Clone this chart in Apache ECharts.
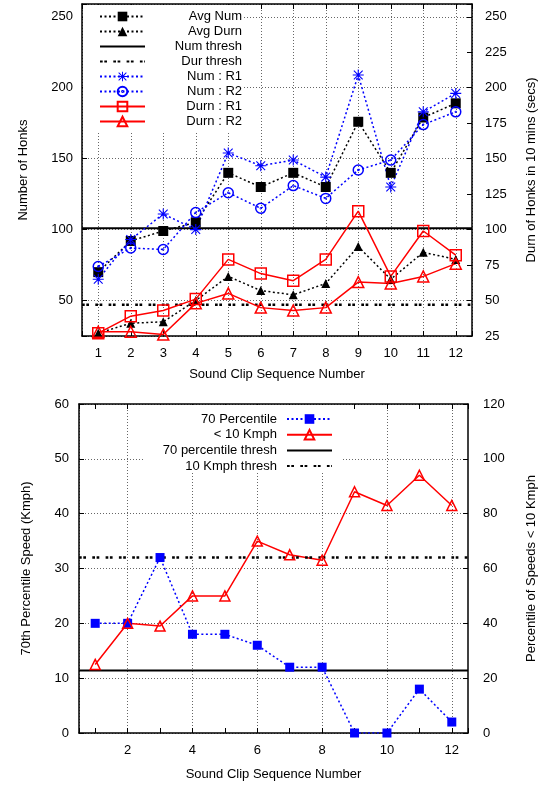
<!DOCTYPE html>
<html><head><meta charset="utf-8">
<script src="https://cdn.jsdelivr.net/npm/echarts@6/dist/echarts.min.js"></script>
<style>html,body{margin:0;padding:0;background:#fff}#c{width:553px;height:785px}</style>
</head><body><div id="c"></div>
<script>
// ---------- data ----------
const clips = [1,2,3,4,5,6,7,8,9,10,11,12];
const avgNum  = [70,92,99,105,140,130,140,130,176,140,179,189];
const avgDurn = [27,34,35,50,67,57,54,62,88,65,84,79];
const numThresh = 101;
const durThresh = 47;
const numR1  = [65,93,111,100,154,145,149,137,209,130,183,196];
const numR2  = [74,87,86,112,126,115,131,122,142,149,174,183];
const durnR1 = [27,39,43,51,79,69,64,79,113,67,99,82];
const durnR2 = [28,28,26,48,55,45,43,45,63,62,67,76];

const pct70   = [20,20,32,18,18,16,12,12,0,0,8,2];
const below10 = [25,40,39,50,50,70,65,63,88,83,94,83];
const pct70Thresh = 11.4;
const kmphThresh  = 64;

const xMin = 0.5, xMax = 12.5;
const topLegend = ['Avg Num','Avg Durn','Num thresh','Dur thresh','Num : R1','Num : R2','Durn : R1','Durn : R2'];
const botLegend = ['70 Percentile','< 10 Kmph','70 percentile thresh','10 Kmph thresh'];

// ---------- helpers ----------
const FONT = 'Liberation Sans, Arial, Helvetica, sans-serif';
const BLUE = '#0000ff', RED = '#ff0000', BLACK = '#000000';
const pts = vals => clips.map((c, i) => [c, vals[i]]);
const hline = v => [[xMin, v], [xMax, v]];
const ASTER = 'path://M0 9H20V11H0Z M9 0H11V20H9Z M1.3 2.7L2.7 1.3L18.7 17.3L17.3 18.7Z M17.3 1.3L18.7 2.7L2.7 18.7L1.3 17.3Z';
const CIRCDOT = 'path://M10 0.5A9.5 9.5 0 1 1 9.99 0.5Z M10 9.2A0.8 0.8 0 1 1 9.99 9.2Z';
const dotted = [2, 2.5];
const thickDots = [2.7, 1.6, 2.7, 6.3];
const grid = {color: '#666', width: 1, type: [1, 2]};

function xAx(gi, labelFn, splitColors, name, nameGap) {
  return {
    type: 'value', gridIndex: gi, position: 'bottom', min: xMin, max: xMax,
    minInterval: 1, maxInterval: 1, splitNumber: 12,
    axisLine: {show: true, onZero: false, lineStyle: {color: BLACK, width: 1.5}},
    axisTick: {show: true, inside: true, length: 5, lineStyle: {color: BLACK, width: 1}},
    axisLabel: {show: true, margin: 11, color: BLACK, fontSize: 13, fontFamily: FONT, formatter: labelFn},
    splitLine: {show: true, lineStyle: {color: splitColors, width: 1, type: [1, 2]}},
    name: name, nameLocation: 'middle', nameGap: nameGap,
    nameTextStyle: {color: BLACK, fontSize: 13, fontFamily: FONT}
  };
}
function xTop(gi) {
  return {
    type: 'value', gridIndex: gi, position: 'top', min: xMin, max: xMax,
    minInterval: 1, maxInterval: 1, splitNumber: 12,
    axisLine: {show: true, onZero: false, lineStyle: {color: BLACK, width: 1.5}},
    axisTick: {show: true, inside: true, length: 5, lineStyle: {color: BLACK, width: 1}},
    axisLabel: {show: false}, splitLine: {show: false}
  };
}
function yAx(gi, pos, min, max, step, fixed, labelFn, split, name, gap, margin) {
  const o = {
    type: 'value', gridIndex: gi, position: pos, min: min, max: max,
    axisLine: {show: true, onZero: false, lineStyle: {color: BLACK, width: 1.5}},
    axisTick: {show: true, inside: true, length: 5, lineStyle: {color: BLACK, width: 1}},
    axisLabel: {show: true, margin: margin, color: BLACK, fontSize: 13, fontFamily: FONT, formatter: labelFn},
    splitLine: split ? {show: true, lineStyle: grid} : {show: false},
    name: name, nameLocation: 'middle', nameGap: gap, nameRotate: 90,
    nameTextStyle: {color: BLACK, fontSize: 13, fontFamily: FONT}
  };
  if (fixed) o.interval = step; else { o.minInterval = step; o.maxInterval = step; o.splitNumber = 5; }
  return o;
}
const isInt = v => Math.abs(v - Math.round(v)) < 1e-6;
const mult = m => v => (isInt(v) && Math.round(v) % m === 0) ? String(Math.round(v)) : '';

function ser(name, xi, yi, data, o) {
  return Object.assign({
    name: name, type: 'line', xAxisIndex: xi, yAxisIndex: yi, data: data,
    silent: true, emphasis: {disabled: true}, animation: false, z: 3
  }, o);
}
const none = {symbol: 'circle', symbolSize: 0, itemStyle: {color: 'transparent', borderWidth: 0}};

const option = {
  backgroundColor: '#ffffff',
  animation: false,
  grid: [
    {left: 82, top: 4, width: 390, height: 332, containLabel: false},
    {left: 79, top: 404, width: 389, height: 329, containLabel: false}
  ],
  xAxis: [
    xAx(0, v => isInt(v) ? String(Math.round(v)) : '', '#666', 'Sound Clip Sequence Number', 32),
    xTop(0),
    xAx(1, mult(2), ['#666', 'transparent'], 'Sound Clip Sequence Number', 35),
    xTop(1)
  ],
  yAxis: [
    yAx(0, 'left', 25, 259, 50, false, mult(50), true, 'Number of Honks', 52, 9),
    yAx(0, 'right', 25, 259, 25, true, mult(25), false, 'Durn of Honks in 10 mins (secs)', 53, 13),
    yAx(1, 'left', 0, 60, 10, true, mult(10), true, '70th Percentile Speed (Kmph)', 46, 10),
    yAx(1, 'right', 0, 120, 20, true, mult(20), false, 'Percentile of Speeds < 10 Kmph', 57, 15)
  ],
  legend: [
    {
      data: topLegend, orient: 'vertical', align: 'left', left: 83, top: 5,
      padding: [5, 2, 3, 16], itemGap: 2, itemWidth: 45, itemHeight: 12,
      backgroundColor: '#ffffff', selectedMode: false, z: 10,
      formatter: n => '{a|' + n + '}',
      textStyle: {color: BLACK, fontSize: 13, fontFamily: FONT,
        rich: {a: {width: 92, align: 'right', fontSize: 13, fontFamily: FONT, color: BLACK}}}
    },
    {
      data: botLegend, orient: 'vertical', align: 'right', right: 211, top: 405,
      padding: [7.5, 9, 0, 19], itemGap: 2.7, itemWidth: 45, itemHeight: 12,
      backgroundColor: '#ffffff', selectedMode: false, z: 10,
      formatter: n => '{a|' + n + '}',
      textStyle: {color: BLACK, fontSize: 13, fontFamily: FONT,
        rich: {a: {padding: [0, 5, 0, 0], fontSize: 13, fontFamily: FONT, color: BLACK}}}
    }
  ],
  series: [
    ser('Avg Num', 0, 0, pts(avgNum), {symbol: 'rect', symbolSize: 10,
      itemStyle: {color: BLACK}, lineStyle: {color: BLACK, width: 1.5, type: dotted}}),
    ser('Avg Durn', 0, 1, pts(avgDurn), {symbol: 'triangle', symbolSize: 9,
      itemStyle: {color: BLACK}, lineStyle: {color: BLACK, width: 1.5, type: dotted}}),
    ser('Num thresh', 0, 0, hline(numThresh), Object.assign({}, none,
      {lineStyle: {color: BLACK, width: 2, type: 'solid'}})),
    ser('Dur thresh', 0, 1, hline(durThresh), Object.assign({}, none,
      {lineStyle: {color: BLACK, width: 2.6, type: thickDots}})),
    ser('Num : R1', 0, 0, pts(numR1), {symbol: ASTER, symbolSize: 11,
      itemStyle: {color: BLUE}, lineStyle: {color: BLUE, width: 1.5, type: dotted}}),
    ser('Num : R2', 0, 0, pts(numR2), {symbol: CIRCDOT, symbolSize: 10,
      itemStyle: {color: 'transparent', borderColor: BLUE, borderWidth: 1.5},
      lineStyle: {color: BLUE, width: 1.5, type: dotted}}),
    ser('Durn : R1', 0, 1, pts(durnR1), {symbol: 'rect', symbolSize: 11,
      itemStyle: {color: 'transparent', borderColor: RED, borderWidth: 1.5},
      lineStyle: {color: RED, width: 1.5, type: 'solid'}}),
    ser('Durn : R2', 0, 1, pts(durnR2), {symbol: 'triangle', symbolSize: 11,
      itemStyle: {color: 'transparent', borderColor: RED, borderWidth: 1.5},
      lineStyle: {color: RED, width: 1.5, type: 'solid'}}),

    ser('70 Percentile', 2, 2, pts(pct70), {symbol: 'rect', symbolSize: 9,
      itemStyle: {color: BLUE}, lineStyle: {color: BLUE, width: 1.5, type: dotted}}),
    ser('< 10 Kmph', 2, 3, pts(below10), {symbol: 'triangle', symbolSize: 10,
      itemStyle: {color: 'transparent', borderColor: RED, borderWidth: 1.5},
      lineStyle: {color: RED, width: 1.5, type: 'solid'}}),
    ser('70 percentile thresh', 2, 2, hline(pct70Thresh), Object.assign({}, none,
      {lineStyle: {color: BLACK, width: 2, type: 'solid'}})),
    ser('10 Kmph thresh', 2, 3, hline(kmphThresh), Object.assign({}, none,
      {lineStyle: {color: BLACK, width: 2.6, type: thickDots}}))
  ]
};
const chart = echarts.init(document.getElementById('c'), null, {renderer: 'canvas'});
chart.setOption(option);
</script></body></html>
